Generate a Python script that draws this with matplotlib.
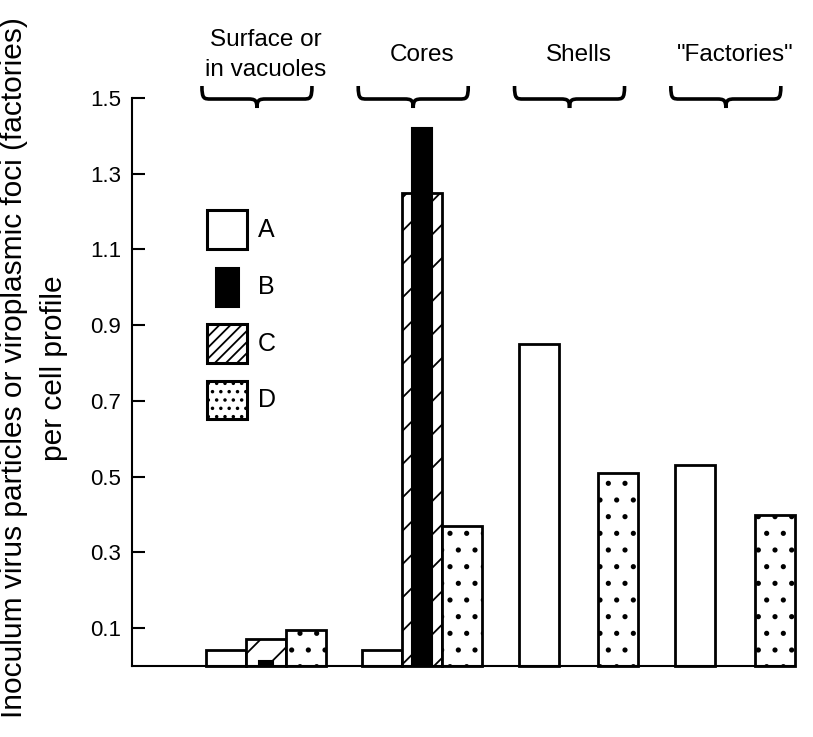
import matplotlib
matplotlib.use('Agg')
import matplotlib.pyplot as plt
from matplotlib.patches import Rectangle, PathPatch
from matplotlib.path import Path

plt.rcParams['font.family'] = ['Liberation Sans', 'DejaVu Sans']
plt.rcParams['hatch.linewidth'] = 1.3

# data
groups = ['Surface or\nin vacuoles', 'Cores', 'Shells', '"Factories"']
val_A = [0.042, 0.042, 0.85, 0.53]
val_B = [0.013, 1.42, 0.0, 0.0]
val_C = [0.072, 1.25, 0.0, 0.0]
val_D = [0.095, 0.37, 0.51, 0.40]
width_B = [0.095, 0.125, 0.0, 0.0]
yticks = [0.1, 0.3, 0.5, 0.7, 0.9, 1.1, 1.3, 1.5]
legend_names = ['A', 'B', 'C', 'D']

W, H = 813, 737
fig = plt.figure(figsize=(W / 100, H / 100), dpi=100)

# axes placed by pixel positions of the original
x0_px, x1_px, y0_px, y1_px = 132, 795, 666, 98
ax = fig.add_axes([x0_px / W, 1 - y0_px / H, (x1_px - x0_px) / W, (y0_px - y1_px) / H])

gx = list(range(len(groups)))
bw = 0.255
for i in gx:
    ax.bar(i - bw, val_A[i], bw, facecolor='white', edgecolor='black', linewidth=2, clip_on=False)
    if val_C[i] > 0:
        ax.bar(i, val_C[i], bw, facecolor='white', edgecolor='black', linewidth=2, hatch='/',
               clip_on=False)
    if val_B[i] > 0:
        ax.bar(i, val_B[i], width_B[i], facecolor='black', edgecolor='black', linewidth=1.5,
               clip_on=False)
    ax.bar(i + bw, val_D[i], bw, facecolor='white', edgecolor='black', linewidth=2, hatch='.',
           clip_on=False)

ax.set_xlim(-0.857, 3.385)
ax.set_ylim(0, 1.5)
ax.set_xticks([])
ax.set_yticks(yticks)
ax.set_yticklabels(['%.1f' % t for t in yticks], fontsize=16)
ax.tick_params(axis='y', direction='in', length=9, width=1.5, pad=8)
for s in ['top', 'right']:
    ax.spines[s].set_visible(False)
ax.spines['left'].set_linewidth(1.5)
ax.spines['bottom'].set_linewidth(1.5)

fig.text(34 / W, 1 - 368 / H,
         'Inoculum virus particles or viroplasmic foci (factories)\nper cell profile',
         rotation=90, ha='center', va='center', multialignment='center',
         fontsize=21.5, linespacing=1.5)


# curly braces above each group (drawn in pixel space)
def px(x, y):
    return (x / W, 1 - y / H)


def brace(xl, xr, ytop=86, ymid=99, ybot=108):
    xm = (xl + xr) / 2
    r = 9
    verts = [px(xl, ytop),
             px(xl, ymid), px(xl + 2, ymid), px(xl + r, ymid),
             px(xm - r, ymid),
             px(xm - 2, ymid), px(xm, ymid + 1), px(xm, ybot),
             px(xm, ymid + 1), px(xm + 2, ymid), px(xm + r, ymid),
             px(xr - r, ymid),
             px(xr - 2, ymid), px(xr, ymid), px(xr, ytop)]
    codes = [Path.MOVETO,
             Path.CURVE4, Path.CURVE4, Path.CURVE4,
             Path.LINETO,
             Path.CURVE4, Path.CURVE4, Path.CURVE4,
             Path.CURVE4, Path.CURVE4, Path.CURVE4,
             Path.LINETO,
             Path.CURVE4, Path.CURVE4, Path.CURVE4]
    fig.add_artist(PathPatch(Path(verts, codes), transform=fig.transFigure,
                             facecolor='none', edgecolor='black', linewidth=2.6))


to_px = lambda xd: ax.transData.transform((xd, 0))[0]
for i in gx:
    c = to_px(i)
    brace(c - 64, c + 46)
    fig.text(c / W, 1 - 55 / H, groups[i], ha='center', va='center',
             fontsize=17.5, linespacing=1.5)

# legend boxes
leg_boxes = [(207, 210, 40, 39), (216, 268, 22, 38), (207, 324, 40, 39), (207, 381, 40, 38)]
leg_style = [dict(facecolor='white'),
             dict(facecolor='black'),
             dict(facecolor='white', hatch='///'),
             dict(facecolor='white', hatch='..')]
for (lx, ly, lw, lh), st, name in zip(leg_boxes, leg_style, legend_names):
    fig.add_artist(Rectangle((lx / W, 1 - (ly + lh) / H), lw / W, lh / H,
                             transform=fig.transFigure, edgecolor='black',
                             linewidth=2.2, **st))
    fig.text(258 / W, 1 - (ly + lh / 2) / H, name, ha='left', va='center', fontsize=18)

fig.savefig('out.png', dpi=100)
